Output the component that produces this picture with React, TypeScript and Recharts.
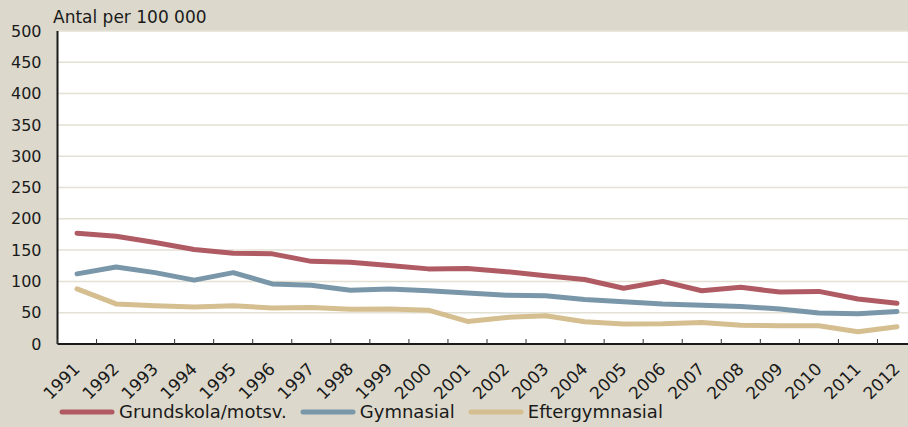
import React from 'react';
import { LineChart, Line, XAxis, YAxis, CartesianGrid, Legend } from 'recharts';

const years = ['1991','1992','1993','1994','1995','1996','1997','1998','1999','2000','2001','2002','2003','2004','2005','2006','2007','2008','2009','2010','2011','2012'];
const grundskola = [177,172,162,151,145,144,132,130.5,125.5,120,120.5,115.5,109,103,89,100,85,90.5,83,84,72,65];
const gymnasial = [112,123,114,102,114,96,94,86,88,85,81.5,78,77,71,67.5,64,62,60,56,49.5,48.5,52];
const eftergymnasial = [88,64,61,59,61,57.5,58.5,55.5,56,54,36,42.5,45,35.5,32,32.5,34.5,30,29,29,19.5,27.5];
const yTicks = [0,50,100,150,200,250,300,350,400,450,500];

const seriesInfo = [
  { key: 'grund', name: 'Grundskola/motsv.', color: '#b05b63' },
  { key: 'gym', name: 'Gymnasial', color: '#7997a9' },
  { key: 'efter', name: 'Eftergymnasial', color: '#d5be90' },
];

const data = years.map((y, i) => ({ year: y, grund: grundskola[i], gym: gymnasial[i], efter: eftergymnasial[i] }));

const FONT = '"DejaVu Sans", sans-serif';
const BG = '#dcd9cc';
const CHART_W = 920;
const CHART_H = 427;
const M = { top: 31, right: 3.5, bottom: 0, left: 0 };
const X_H = 83;
const Y_W = 57.5;
const BW = (CHART_W - M.right - M.left - Y_W) / years.length;

const XTick = (props: any) => {
  const { x, y, payload } = props;
  const bx = x - BW / 2;
  const ax = x + 4;
  const ay = y + 26;
  return (
    <g>
      <line x1={bx} y1={y} x2={bx} y2={y - 5} stroke="#333" strokeWidth={1} />
      <text
        x={ax}
        y={ay}
        textAnchor="end"
        transform={`rotate(-45 ${ax} ${ay})`}
        fontFamily={FONT}
        fontSize={17}
        fill="#1a1a1a"
      >
        {payload.value}
      </text>
    </g>
  );
};

const LegendContent = () => (
  <div style={{ display: 'flex', alignItems: 'center', paddingLeft: 59, fontFamily: FONT, fontSize: 18, color: '#1a1a1a' }}>
    {seriesInfo.map((s) => (
      <div key={s.key} style={{ display: 'flex', alignItems: 'center', marginRight: 13 }}>
        <svg width={56} height={8} style={{ marginRight: 4 }}>
          <line x1={3} y1={4} x2={53} y2={4} stroke={s.color} strokeWidth={5} strokeLinecap="round" />
        </svg>
        <span>{s.name}</span>
      </div>
    ))}
  </div>
);

export default function App() {
  return (
    <div style={{ position: 'absolute', left: 0, top: 0, width: 908, height: 427, overflow: 'hidden', background: BG }}>
      <div style={{ position: 'absolute', left: 53, top: 7, fontFamily: FONT, fontSize: 17, color: '#1a1a1a', zIndex: 2 }}>
        Antal per 100 000
      </div>
      <LineChart width={CHART_W} height={CHART_H} data={data} margin={M}>
        <CartesianGrid vertical={false} stroke="#e3e0d4" strokeWidth={1.5} fill="#ffffff" />
        <XAxis
          dataKey="year"
          scale="band"
          height={X_H}
          interval={0}
          tickLine={false}
          tickSize={0}
          tickMargin={0}
          axisLine={{ stroke: '#1a1a1a', strokeWidth: 2 }}
          tick={<XTick />}
        />
        <YAxis
          width={Y_W}
          domain={[0, 500]}
          ticks={yTicks}
          interval={0}
          tickLine={false}
          tickSize={0}
          tickMargin={16}
          axisLine={{ stroke: '#1a1a1a', strokeWidth: 2 }}
          tick={{ fontFamily: FONT, fontSize: 16, fill: '#1a1a1a' }}
        />
        <Legend
          layout="horizontal"
          align="center"
          verticalAlign="middle"
          wrapperStyle={{ top: 401, left: 0, width: 908 }}
          content={<LegendContent />}
        />
        {seriesInfo.map((s) => (
          <Line
            key={s.key}
            type="linear"
            dataKey={s.key}
            name={s.name}
            stroke={s.color}
            strokeWidth={5}
            strokeLinejoin="round"
            strokeLinecap="round"
            dot={false}
            activeDot={false}
            isAnimationActive={false}
          />
        ))}
      </LineChart>
    </div>
  );
}
